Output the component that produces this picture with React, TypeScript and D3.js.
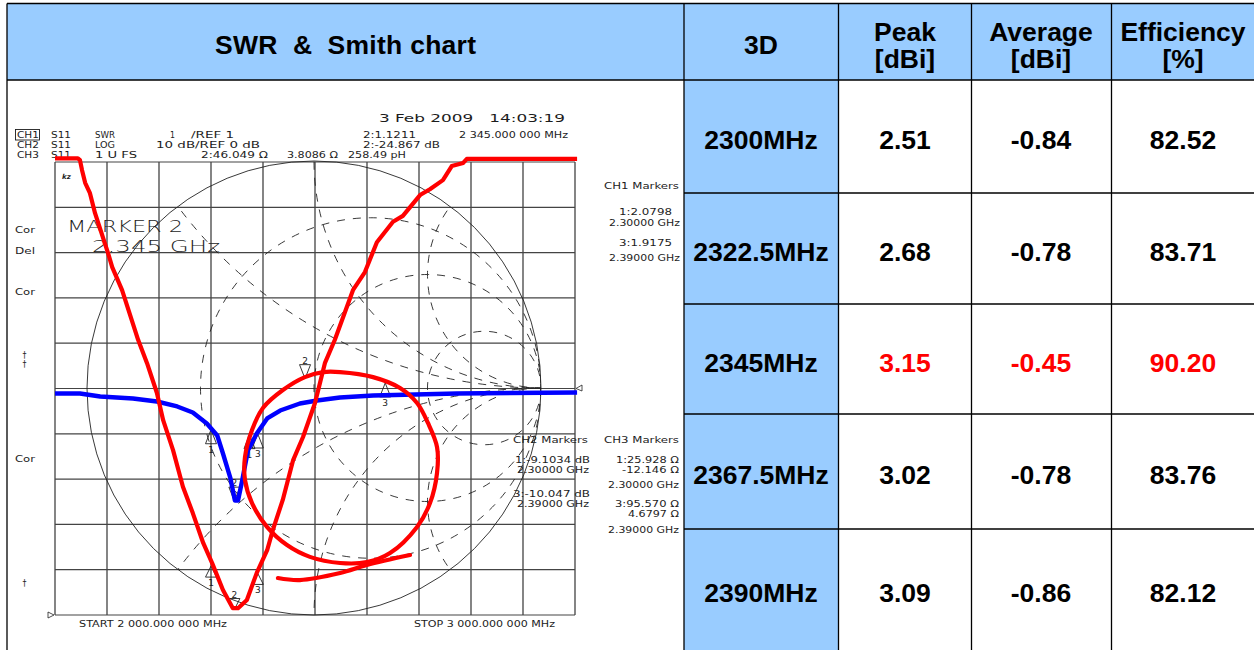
import React from 'react';
import * as d3 from 'd3';

// ---------- table data ----------
const frequencies = ['2300MHz', '2322.5MHz', '2345MHz', '2367.5MHz', '2390MHz'];
const peak = ['2.51', '2.68', '3.15', '3.02', '3.09'];
const average = ['-0.84', '-0.78', '-0.45', '-0.78', '-0.86'];
const efficiency = ['82.52', '83.71', '90.20', '83.76', '82.12'];
const highlightRow = '2345MHz';

// ---------- traces ----------
// CH1 SWR: [MHz, SWR]
const swrTrace: [number, number][] = [
  [2000, 11.08], [2044, 11.08], [2048, 11.04], [2052, 10.82], [2058, 10.54], [2067, 10.32], [2077, 9.87],
  [2092, 9.34], [2102, 8.99], [2110, 8.68], [2129, 8.17], [2160, 7.07], [2177, 6.56], [2196, 5.9],
  [2208, 5.3], [2227, 4.64], [2246, 3.83], [2265, 3.25], [2285, 2.59], [2302, 2.15], [2323, 1.55],
  [2342, 1.15], [2352, 1.15], [2369, 1.33], [2388, 1.93], [2408, 2.43], [2419, 2.88], [2438, 3.54],
  [2458, 4.42], [2477, 4.93], [2500, 5.68], [2519, 6.56], [2538, 7.07], [2573, 8.17], [2596, 8.57],
  [2619, 9.23], [2650, 9.68], [2669, 9.81], [2702, 10.27], [2721, 10.4], [2746, 10.6], [2763, 10.91],
  [2785, 10.98], [2792, 11.07], [3004, 11.07],
];
// CH2 log magnitude: [MHz, dB]
const logTrace: [number, number][] = [
  [2000, -1.1], [2048, -1.1], [2087, -1.77], [2150, -2.21], [2196, -2.87], [2235, -3.97], [2265, -5.3],
  [2292, -7.73], [2312, -10.38], [2323, -14.35], [2337, -19.65], [2346, -24.72], [2352, -24.72],
  [2360, -20.31], [2371, -13.69], [2388, -9.93], [2408, -6.62], [2433, -4.86], [2471, -3.31],
  [2504, -2.65], [2548, -1.99], [2612, -1.55], [2773, -1.1], [3004, -0.88],
];
// CH3 Smith: [Re, Im] of reflection coefficient
const smithLoop: [number, number][] = [
  [0.115, 0.07], [0.04, 0.07], [-0.04, 0.048], [-0.137, -0.009], [-0.225, -0.088], [-0.273, -0.185],
  [-0.304, -0.304], [-0.304, -0.405], [-0.273, -0.507], [-0.207, -0.612], [-0.119, -0.692], [-0.018, -0.744],
  [0.115, -0.771], [0.233, -0.767], [0.335, -0.727], [0.454, -0.612], [0.511, -0.507], [0.542, -0.374],
  [0.542, -0.26], [0.502, -0.154], [0.454, -0.066], [0.379, 0], [0.26, 0.048],
];
const smithTail: [number, number][] = [
  [-0.159, -0.837], [-0.062, -0.846], [0.115, -0.815], [0.233, -0.78], [0.423, -0.736],
];
const smithResistances = [1 / 3, 1, 3];
const smithReactances = [0.5, 1, 2, -0.5, -1, -2];

// ---------- markers ----------
const markerIds = ['1', '2', '3'];
const markerFreqs = [2300, 2345, 2390];
const markerSwr = [2.0798, 1.1211, 1.9175];
const markerDb = [-9.1034, -24.867, -10.047];
const markerZ: [number, number][] = [[25.928, -12.146], [46.049, 3.8086], [95.57, 4.6797]];

// ---------- scales ----------
const xScale = d3.scaleLinear().domain([2000, 3000]).range([55, 575]);
const swrScale = d3.scaleLinear().domain([1, 11]).range([615, 162]);
const dbScale = d3.scaleLinear().domain([-50, 50]).range([615, 162]);
const gx = d3.scaleLinear().domain([-1, 1]).range([87, 541]);
const gy = d3.scaleLinear().domain([-1, 1]).range([615, 161]);

const swrLine = d3.line<[number, number]>().x(d => xScale(d[0])).y(d => swrScale(d[1]));
const logLine = d3.line<[number, number]>().x(d => xScale(d[0])).y(d => dbScale(d[1]));
const loopLine = d3.line<[number, number]>().x(d => gx(d[0])).y(d => gy(d[1])).curve(d3.curveCatmullRomClosed);
const tailLine = d3.line<[number, number]>().x(d => gx(d[0])).y(d => gy(d[1])).curve(d3.curveCatmullRom);

const gamma = ([r, x]: [number, number]): [number, number] => {
  const a = r / 50, b = x / 50;
  const den = (a + 1) * (a + 1) + b * b;
  return [(a * a + b * b - 1) / den, (2 * b) / den];
};

const INK = '#1c1c1c';
const FONT = '"DejaVu Sans", sans-serif';

const T = ({ x, y, w, s, size = 8.4, weight = 400 }: any) => (
  <text x={x} y={y} textLength={w} lengthAdjust="spacingAndGlyphs" fontFamily={FONT} fontSize={size}
    fontWeight={weight} fill={INK} style={{ whiteSpace: 'pre' }}>{s}</text>
);

const Marker = ({ x, y, h = 11, id, down }: any) => {
  const half = 5.5;
  const dir = down ? -1 : 1;
  return (
    <g>
      <path d={`M${x},${y} L${x - half},${y + dir * h} L${x + half},${y + dir * h} Z`} fill="none" stroke="#222" strokeWidth={0.9} />
      <text x={x} y={down ? y - h - 1 : y + h + 9} textAnchor="middle" fontFamily={FONT} fontSize={9} fill={INK}>{id}</text>
    </g>
  );
};

const columns = [
  { cx: 905, title: ['Peak', '[dBi]'], values: peak },
  { cx: 1041, title: ['Average', '[dBi]'], values: average },
  { cx: 1183, title: ['Efficiency', '[%]'], values: efficiency },
];
const rowEdges = [80, 193, 304, 414, 529, 650];
const colEdges = [684, 838.5, 971.5, 1111.5];
const TABLE_FONT = '"Liberation Sans", Arial, sans-serif';

export default function App() {
  const xTicks = d3.range(0, 11).map(i => 2000 + i * 100);
  const yTicks = d3.range(0, 11).map(i => 1 + i);
  return (
    <svg width={1254} height={650} style={{ position: 'absolute', left: 0, top: 0, background: '#fff' }}>
      <defs>
        <clipPath id="unit"><circle cx={gx(0)} cy={gy(0)} r={gx(1) - gx(0)} /></clipPath>
      </defs>

      {/* table fills */}
      <rect x={7} y={3.5} width={1247} height={76.5} fill="#99ccff" />
      <rect x={684} y={80} width={154.5} height={570} fill="#99ccff" />

      {/* grid */}
      {xTicks.map(t => <line key={t} x1={xScale(t)} x2={xScale(t)} y1={swrScale(11)} y2={swrScale(1)} stroke="#333" strokeWidth={1.2} />)}
      {yTicks.map(t => <line key={t} x1={xScale(2000)} x2={xScale(3000)} y1={swrScale(t)} y2={swrScale(t)} stroke="#444" strokeWidth={1.2} />)}

      {/* Smith chart */}
      <circle cx={gx(0)} cy={gy(0)} r={gx(1) - gx(0)} fill="none" stroke="#222" strokeWidth={0.9} />
      <g clipPath="url(#unit)" fill="none" stroke="#222" strokeWidth={0.9} strokeDasharray="8 8">
        {smithResistances.map(r => (
          <circle key={r} cx={gx(r / (1 + r))} cy={gy(0)} r={gx(1 / (1 + r)) - gx(0)} />
        ))}
        {smithReactances.map(v => (
          <circle key={v} cx={gx(1)} cy={gy(1 / v)} r={gx(1 / Math.abs(v)) - gx(0)} />
        ))}
      </g>

      {/* instrument annotation */}
      <rect x={15.5} y={129.5} width={24} height={10.5} fill="none" stroke={INK} strokeWidth={0.9} />
      <T x={17} y={138} w={22} s="CH1" /><T x={51} y={138} w={20} s="S11" /><T x={95} y={138} w={20} s="SWR" />
      <T x={170} y={138} w={5} s="1" /><T x={191} y={138} w={43} s="/REF 1" />
      <T x={17} y={148} w={22} s="CH2" /><T x={51} y={148} w={20} s="S11" /><T x={95} y={148} w={20} s="LOG" />
      <T x={156} y={148} w={104} s="10 dB/REF 0 dB" />
      <T x={17} y={158} w={22} s="CH3" /><T x={51} y={158} w={20} s="S11" /><T x={95} y={158} w={42} s="1 U FS" />
      <T x={201} y={158} w={67} s="2:46.049 Ω" /><T x={287} y={158} w={51} s="3.8086 Ω" /><T x={348} y={158} w={58} s="258.49 pH" />
      <T x={379} y={122} w={186} size={10} s="3 Feb 2009   14:03:19" />
      <T x={363} y={138} w={53} s="2:1.1211" /><T x={459} y={138} w={109} s="2 345.000 000 MHz" />
      <T x={363} y={148} w={77} s="2:-24.867 dB" />

      <T x={604} y={189} w={75} s="CH1 Markers" />
      <T x={619} y={215} w={53} s="1:2.0798" /><T x={609} y={226} w={71} s="2.30000 GHz" />
      <T x={619} y={246} w={53} s="3:1.9175" /><T x={609} y={261} w={71} s="2.39000 GHz" />

      <T x={513} y={443} w={75} s="CH2 Markers" /><T x={604} y={443} w={75} s="CH3 Markers" />
      <T x={515} y={463} w={75} s="1:-9.1034 dB" /><T x={517} y={473} w={72} s="2.30000 GHz" />
      <T x={513} y={497} w={77} s="3:-10.047 dB" /><T x={517} y={507} w={72} s="2.39000 GHz" />
      <T x={616} y={463} w={63} s="1:25.928 Ω" /><T x={622} y={473} w={57} s="-12.146 Ω" />
      <T x={608} y={488} w={71} s="2.30000 GHz" />
      <T x={615} y={507} w={64} s="3:95.570 Ω" /><T x={628} y={517} w={51} s="4.6797 Ω" />
      <T x={608} y={533} w={71} s="2.39000 GHz" />
      <T x={79} y={627} w={148} s="START 2 000.000 000 MHz" /><T x={414} y={627} w={141} s="STOP 3 000.000 000 MHz" />

      <T x={15} y={233} w={20} s="Cor" /><T x={15} y={254} w={20} s="Del" /><T x={15} y={295} w={20} s="Cor" />
      <T x={15} y={462} w={20} s="Cor" />
      <T x={22.5} y={358} w={4} s="†" /><T x={22.5} y={367} w={4} s="†" /><T x={22.5} y={586} w={4} s="†" />
      <text x={62} y={179} fontFamily={FONT} fontSize={7} fontStyle="italic" fontWeight={700} fill={INK}>kz</text>
      <T x={67} y={232} w={116} size={16} weight={200} s="MARKER 2" />
      <T x={92} y={252} w={128} size={16} weight={200} s="2.345 GHz" />

      {/* reference arrows */}
      <path d={`M48,612 L54,${swrScale(1)} L48,618 Z`} fill="none" stroke="#222" strokeWidth={0.8} />
      <path d={`M582,385 L576,${dbScale(0)} L582,391 Z`} fill="none" stroke="#222" strokeWidth={0.8} />

      {/* markers */}
      {markerIds.map((id, i) => (
        <Marker key={'s' + id} id={id} x={xScale(markerFreqs[i])} y={swrScale(markerSwr[i])} h={11} down={id === '2'} />
      ))}
      {markerIds.map((id, i) => (
        <Marker key={'l' + id} id={id} x={xScale(markerFreqs[i])} y={dbScale(markerDb[i])} h={14} down={id === '2'} />
      ))}
      {markerIds.map((id, i) => {
        const g = gamma(markerZ[i]);
        return <Marker key={'z' + id} id={id} x={gx(g[0])} y={gy(g[1])} h={14} down={id === '2'} />;
      })}

      {/* traces */}
      <path d={logLine(logTrace)!} fill="none" stroke="#0000ff" strokeWidth={4.4} strokeLinejoin="round" />
      <path d={swrLine(swrTrace)!} fill="none" stroke="#ff0000" strokeWidth={4.2} strokeLinejoin="round" />
      <path d={loopLine(smithLoop)!} fill="none" stroke="#ff0000" strokeWidth={4.2} strokeLinejoin="round" />
      <path d={tailLine(smithTail)!} fill="none" stroke="#ff0000" strokeWidth={4.2} strokeLinejoin="round" strokeLinecap="round" />

      {/* table rules */}
      <g stroke="#000" strokeWidth={1.3}>
        <line x1={7} x2={1254} y1={3.5} y2={3.5} />
        <line x1={7} x2={1254} y1={80} y2={80} />
        <line x1={7} x2={7} y1={3.5} y2={650} />
        {colEdges.map(x => <line key={x} x1={x} x2={x} y1={3.5} y2={650} />)}
        {rowEdges.slice(1, 5).map(y => <line key={y} x1={684} x2={1254} y1={y} y2={y} />)}
      </g>

      {/* table text */}
      <g fontFamily={TABLE_FONT} fontWeight={700} fontSize={26.5} textAnchor="middle" fill="#000">
        <text x={215} y={54} textAnchor="start" textLength={261} style={{ whiteSpace: 'pre' }}>{'SWR  &  Smith chart'}</text>
        <text x={761} y={54}>3D</text>
        {columns.map(c => (
          <g key={c.cx}>
            <text x={c.cx} y={41}>{c.title[0]}</text>
            <text x={c.cx} y={68}>{c.title[1]}</text>
          </g>
        ))}
        {frequencies.map((f, i) => {
          const y = (rowEdges[i] + rowEdges[i + 1]) / 2 + 12.8;
          const color = f === highlightRow ? '#ff0000' : '#000';
          return (
            <g key={f}>
              <text x={761} y={y}>{f}</text>
              {columns.map(c => <text key={c.cx} x={c.cx} y={y} fill={color}>{c.values[i]}</text>)}
            </g>
          );
        })}
      </g>
    </svg>
  );
}
